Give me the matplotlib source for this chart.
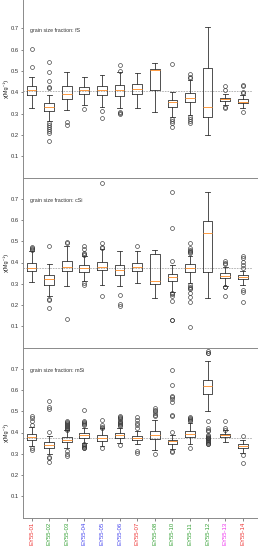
import numpy as np
import matplotlib
matplotlib.use("Agg")
import matplotlib.pyplot as plt

plt.rcParams['font.family'] = ['Liberation Sans', 'DejaVu Sans']

# sample labels and colours
labels = ['EY55-01', 'EY55-02', 'EY55-03', 'EY55-04', 'EY55-05', 'EY55-06', 'EY55-07',
          'EY55-08', 'EY55-10', 'EY55-11', 'EY55-12', 'EY55-13', 'EY55-14']
label_colors = ['#ee3333', '#33a033', '#33a033', '#4444ee', '#4444ee', '#4444ee', '#ee3333',
                '#33a033', '#33a033', '#33a033', '#33a033', '#ee33ee', '#ee3333']

fractions = ['fS', 'cSi', 'mSi']
ref_lines = [0.407, 0.375, 0.374]

# ---- fS ----
fs_lo = [.325, .263, .317, .341, .333, .325, .325, .309, .286, .294, .200, .340, .325]
fs_q1 = [.386, .314, .367, .392, .388, .384, .391, .411, .331, .356, .286, .359, .348]
fs_med = [.411, .331, .394, .409, .411, .411, .416, .505, .356, .372, .333, .369, .356]
fs_q3 = [.431, .348, .428, .423, .428, .433, .438, .508, .366, .397, .516, .373, .367]
fs_hi = [.472, .388, .495, .470, .483, .497, .492, .536, .403, .456, .705, .392, .388]
fs_fl = [[.605, .52],
         [.544, .494, .455, .427, .419, .255, .245, .235, .228, .22, .211, .173],
         [.259, .247],
         [.320],
         [.314, .280],
         [.528, .502, .309, .302, .297],
         [],
         [],
         [.531, .275, .266, .255, .238],
         [.484, .472, .466, .286, .275, .266, .256],
         [],
         [.431, .411, .333, .325],
         [.434, .431, .403, .398, .306]]

# ---- cSi ----
csi_lo = [.308, .244, .291, .314, .295, .288, .305, .234, .260, .302, .231, .290, .295]
csi_q1 = [.358, .295, .358, .356, .364, .341, .359, .298, .311, .355, .353, .325, .322]
csi_med = [.373, .322, .377, .373, .377, .366, .377, .312, .331, .375, .539, .337, .334]
csi_q3 = [.400, .341, .409, .389, .403, .389, .398, .440, .348, .394, .595, .350, .342]
csi_hi = [.455, .395, .477, .430, .462, .455, .455, .458, .387, .431, .734, .380, .361]
csi_fl = [[.475, .47, .465, .46],
          [.477, .228, .222, .184],
          [.497, .49, .133],
          [.478, .462, .447, .44, .437, .302, .294],
          [.775, .494, .475, .47, .244],
          [.245, .205, .197],
          [.477],
          [],
          [.733, .564, .406, .256, .25, .244, .22, .130, .128],
          [.492, .466, .46, .455, .45, .447, .294, .287, .28, .275, .256, .236, .212, .095],
          [-.025],
          [.405, .398, .392, .286, .283, .241],
          [.431, .419, .403, .387, .372, .27, .262, .216]]

# ---- mSi ----
msi_lo = [.336, .300, .328, .351, .336, .352, .344, .320, .322, .347, .503, .356, .305]
msi_q1 = [.366, .325, .356, .375, .362, .373, .366, .370, .347, .378, .581, .378, .325]
msi_med = [.380, .341, .366, .386, .375, .386, .375, .388, .359, .391, .617, .386, .336]
msi_q3 = [.391, .355, .378, .398, .386, .398, .383, .406, .367, .406, .645, .394, .347]
msi_hi = [.425, .383, .410, .422, .419, .419, .406, .461, .390, .445, .737, .410, .363]
msi_fl = [[.477, .466, .453, .434, .325, .32],
          [.547, .519, .512, .402, .284, .278, .261],
          [.453, .448, .444, .44, .436, .431, .427, .422, .418, .414, .312, .30, .289],
          [.508, .456, .45, .445, .44, .434, .347, .342, .337, .333, .329, .325],
          [.459, .434, .428, .422, .328],
          [.477, .472, .467, .462, .456, .45, .445, .44, .434, .43, .341],
          [.472, .458, .445, .433, .422, .312, .305],
          [.516, .508, .5, .492, .484, .477, .297],
          [.692, .625, .573, .565, .556, .544, .481, .478, .402, .315, .31],
          [.472, .468, .464, .46, .456, .328],
          [.782, .772, .453, .419, .412, .406, .39, .385, .38, .376, .372, .368, .364,
           .36, .356, .352, .348, .344],
          [.453, .419, .412],
          [.383, .294, .255]]

panels = [(fs_lo, fs_q1, fs_med, fs_q3, fs_hi, fs_fl),
          (csi_lo, csi_q1, csi_med, csi_q3, csi_hi, csi_fl),
          (msi_lo, msi_q1, msi_med, msi_q3, msi_hi, msi_fl)]

W, H = 258, 550
fig = plt.figure(figsize=(W / 100, H / 100), dpi=100)

left = 22.7 / W
# (bottom px, top px, ylim top)
rects = [(177.5, 0.0, 0.833), (347.5, 177.5, 0.80), (517.5, 347.5, 0.80)]
pos = np.arange(1, len(labels) + 1)
spine_c = '#8a8a8a'

for i, (lo, q1, med, q3, hi, fl) in enumerate(panels):
    b, t, ytop = rects[i]
    ax = fig.add_axes([left, 1 - b / H, 1 - left, (b - t) / H])
    ax.patch.set_alpha(0)
    stats = []
    for k in range(len(labels)):
        stats.append(dict(med=med[k], q1=q1[k], q3=q3[k], whislo=lo[k], whishi=hi[k],
                          fliers=fl[k], label=labels[k]))
    ax.bxp(stats, positions=pos, widths=0.55, showfliers=True,
           boxprops=dict(color='#333333', lw=0.6),
           whiskerprops=dict(color='#333333', lw=0.6),
           capprops=dict(color='#333333', lw=0.6),
           medianprops=dict(color='#ff9a40', lw=0.7),
           flierprops=dict(marker='o', markersize=2.8, markerfacecolor='none',
                           markeredgecolor='#333333', markeredgewidth=0.45, clip_on=False))
    ax.hlines(ref_lines[i], 0.5, 13.5, colors='#aaaaaa', linestyles=(0, (2, 1.2)), lw=0.6, zorder=0)
    ax.text(0.9, 0.69, 'grain size fraction: ' + fractions[i], fontsize=3.8, color='#333333',
            va='center', ha='left')
    ax.set_xlim(0.5, 13.86)
    ax.set_ylim(0, ytop)
    ax.set_yticks([0.1, 0.2, 0.3, 0.4, 0.5, 0.6, 0.7])
    ax.set_yticklabels(['0.1', '0.2', '0.3', '0.4', '0.5', '0.6', '0.7'])
    ax.tick_params(axis='y', labelsize=4.2, length=1.5, width=0.5, pad=1.2,
                   colors='#555555', labelcolor='#333333')
    ax.set_ylabel('χ(Mg⁻¹)', fontsize=4.0, labelpad=1.5, color='#222222')
    for s in ['top', 'right']:
        ax.spines[s].set_visible(False)
    for s in ['left', 'bottom']:
        ax.spines[s].set_color(spine_c)
        ax.spines[s].set_linewidth(0.7)
    if i < 2:
        ax.set_xticks([])
    else:
        ax.set_xticks(pos)
        ax.set_xticklabels(labels, rotation=90, fontsize=4.3)
        ax.tick_params(axis='x', length=1.8, width=0.5, pad=1.5, colors='#555555')
        for tl, c in zip(ax.get_xticklabels(), label_colors):
            tl.set_color(c)

fig.savefig('out.png', dpi=100)
